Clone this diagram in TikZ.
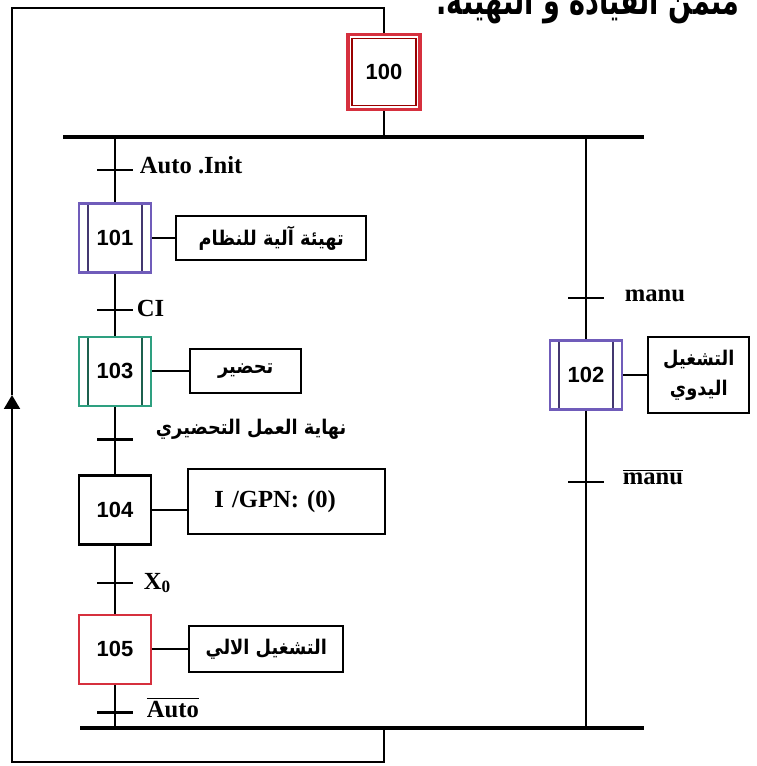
\documentclass[tikz,border=0pt]{standalone}
\usepackage{fontspec}
\usepackage{tikz}
\usetikzlibrary{positioning,arrows.meta}
\setmainfont{Liberation Serif}
\newfontfamily\arialfont{Liberation Sans}
\newfontfamily\arabicfont[Script=Arabic,FakeStretch=0.88]{DejaVu Sans}
\newfontfamily\titlefont[Script=Arabic,FakeStretch=0.7]{DejaVu Sans}
\TeXXeTstate=1
\definecolor{stepred}{RGB}{214,48,62}
\definecolor{stepviolet}{RGB}{112,92,186}
\definecolor{stepgreen}{RGB}{46,160,128}

\begin{document}
\begin{tikzpicture}[x=0.02cm,y=-0.02cm,line width=1.1pt,
  step node/.style={draw,line width=1.4pt,minimum width=1.44cm,minimum height=1.38cm,
    inner sep=0pt,font=\arialfont\bfseries\fontsize{12.5}{14}\selectfont},
  task node/.style={step node,draw=#1,path picture={
    \draw[line width=1pt,#1!60!black]
      ([xshift=0.18cm]path picture bounding box.north west) -- ([xshift=0.18cm]path picture bounding box.south west)
      ([xshift=-0.18cm]path picture bounding box.north east) -- ([xshift=-0.18cm]path picture bounding box.south east);}},
  action node/.style={draw,line width=1.2pt,minimum height=0.88cm,inner sep=2pt,
    font=\arabicfont\bfseries\fontsize{11.5}{17}\selectfont},
  trans/.style={fill=black,minimum width=0.72cm,minimum height=1.6pt,inner sep=0pt},
  cond/.style={inner sep=0pt,anchor=west,font=\bfseries\fontsize{14}{16}\selectfont},
  bar/.style={line width=1.8pt}]

  \useasboundingbox (0,0) rectangle (756,766);
  \clip (0,0) rectangle (756,766);

  \node[anchor=base east,inner sep=0pt,font=\titlefont\bfseries\fontsize{22}{26}\selectfont] (title) at (740,15)
    {\beginR متمن القيادة و التهيئة.\endR};

  \node[step node,draw=stepred,line width=2.2pt,minimum height=1.5cm] (100) at (384,72) {100};
  \node[task node=stepviolet] (101) at (115,238) {101};
  \node[task node=stepgreen] (103) [below=1.24cm of 101] {103};
  \node[step node] (104) [below=1.34cm of 103] {104};
  \node[step node,draw=stepred] (105) [below=1.36cm of 104] {105};
  \node[task node=stepviolet] (102) at (586,375) {102};

  \draw[red!60!black,line width=0.9pt] ([shift={(0.12cm,-0.12cm)}]100.north west)
    rectangle ([shift={(-0.12cm,0.12cm)}]100.south east);

  \node[action node,minimum width=3.8cm] (a101) [right=0.46cm of 101] {\beginR تهيئة آلية للنظام\endR};
  \node[action node,minimum width=2.22cm] (a103) [right=0.74cm of 103] {\beginR تحضير\endR};
  \node[action node,minimum width=3.94cm,minimum height=1.3cm,text width=2.9cm,align=left,
    font=\bfseries\fontsize{14}{16}\selectfont] (a104) [right=0.7cm of 104,yshift=0.16cm] {I /GPN: (0)};
  \node[action node,minimum width=3.08cm,minimum height=0.92cm] (a105) [right=0.72cm of 105] {\beginR التشغيل الالي\endR};
  \node[action node,minimum width=2.02cm,minimum height=1.52cm,align=center] (a102) [right=0.48cm of 102]
    {\beginR التشغيل\endR\\\beginR اليدوي\endR};

  \coordinate (div) at (63,137);
  \coordinate (divE) at (644,137);
  \coordinate (con) at (80,728);
  \coordinate (conE) at (644,728);
  \coordinate (loopT) at (12,8);
  \coordinate (loopB) at (12,762);
  \coordinate (tip) at (12,395);

  \path[draw]
    (100) edge (100 |- div)
    (101 |- div) edge (101)
    (101) edge (103)
    (103) edge (104)
    (104) edge (105)
    (105) edge (105 |- con)
    (102 |- div) edge (102)
    (102) edge (102 |- con)
    (101.east) edge (101.east -| a101.west)
    (103.east) edge (103.east -| a103.west)
    (104.east) edge (104.east -| a104.west)
    (105.east) edge (105.east -| a105.west)
    (102.east) edge (102.east -| a102.west);

  \draw[bar] (div) -- (divE);
  \draw[bar] (con) -- (conE);
  \draw[-{Triangle[length=0.28cm,width=0.32cm]}] (100 |- con) -- (100 |- loopB) -- (loopB) -- (tip);
  \draw (tip) -- (loopT) -- (100 |- loopT) -- (100);

  \node[trans] (t1) [above=0.6cm of 101] {};
  \node[trans] (t2) [below=0.68cm of 101] {};
  \node[trans] (t3) [below=0.6cm of 103] {};
  \node[trans] (t4) [below=0.7cm of 104] {};
  \node[trans] (t5) [below=0.5cm of 105] {};
  \node[trans] (t6) [above=0.78cm of 102] {};
  \node[trans] (t7) [below=1.38cm of 102] {};

  \node[cond] (c1) at ([xshift=0.1cm,yshift=0.1cm]t1.east) {Auto .Init};
  \node[cond] (c2) at ([xshift=0.04cm,yshift=0.04cm]t2.east) {CI};
  \node[cond,font=\arabicfont\bfseries\fontsize{11.5}{14}\selectfont] (c3) at ([xshift=0.42cm,yshift=0.2cm]t3.east)
    {\beginR نهاية العمل التحضيري\endR};
  \node[cond] (c4) at ([xshift=0.18cm]t4.east) {X\textsubscript{0}};
  \node[cond] (c5) at ([xshift=0.24cm,yshift=0.1cm]t5.east) {$\overline{\hbox{\bfseries Auto}}$};
  \node[cond] (c6) at ([xshift=0.38cm,yshift=0.04cm]t6.east) {manu};
  \node[cond] (c7) at ([xshift=0.34cm,yshift=0.1cm]t7.east) {$\overline{\hbox{\bfseries manu}}$};
\end{tikzpicture}
\end{document}
